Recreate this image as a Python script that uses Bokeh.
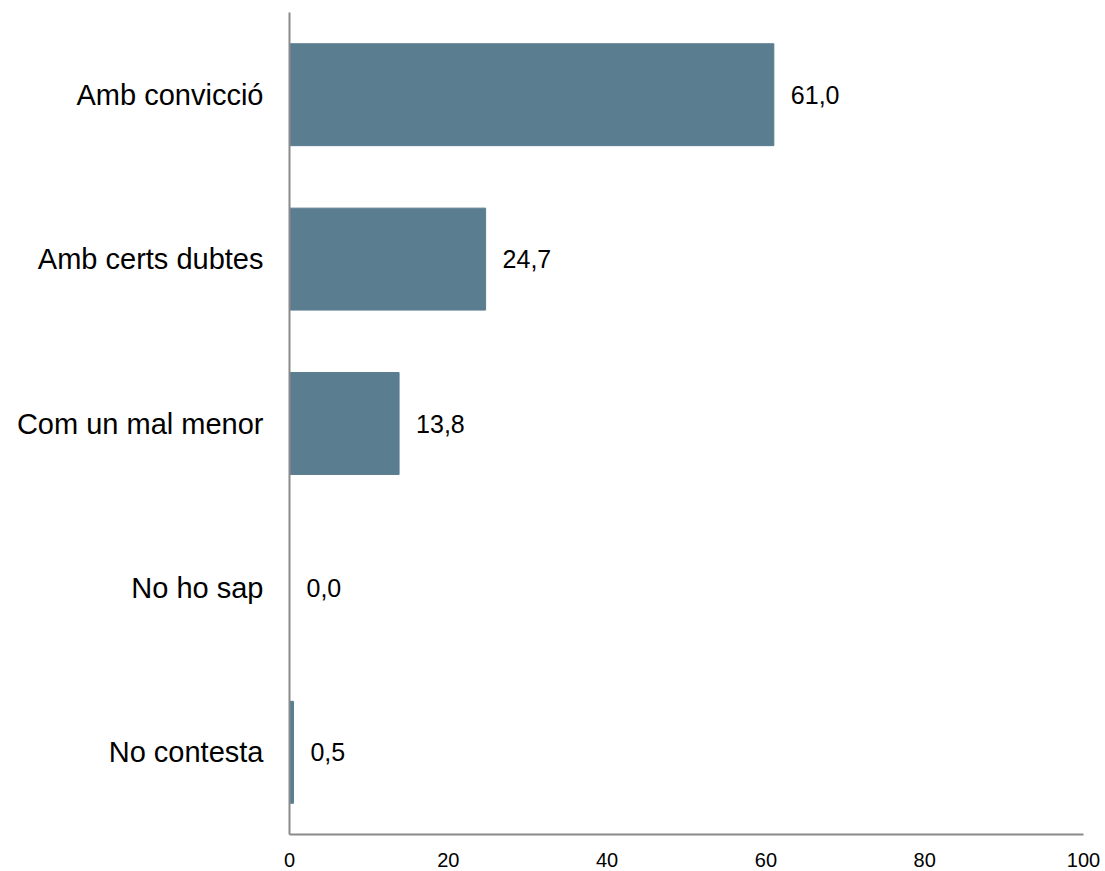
from bokeh.plotting import figure
from bokeh.models import ColumnDataSource, FactorRange, Range1d, FixedTicker
from bokeh.core.properties import value
from bokeh.embed import file_html
from bokeh.resources import INLINE

categories = ["Amb convicció", "Amb certs dubtes", "Com un mal menor", "No ho sap", "No contesta"]
values = [61.0, 24.7, 13.8, 0.0, 0.5]
labels = ["61,0", "24,7", "13,8", "0,0", "0,5"]
x_ticks = [0, 20, 40, 60, 80, 100]

src = ColumnDataSource(dict(cat=categories, val=values, lab=labels))

p = figure(width=1103, height=869, output_backend="svg", toolbar_location=None,
           y_range=FactorRange(factors=list(reversed(categories)), range_padding=0),
           x_range=Range1d(0, 100))
p.min_border_left = 289
p.min_border_right = 20
p.min_border_top = 12
p.min_border_bottom = 33
p.outline_line_color = None
p.grid.grid_line_color = None

p.hbar(y="cat", right="val", left=0, height=0.62, source=src,
       fill_color="#5b7d90", line_color="#5b7d90", line_width=1)
p.text(x="val", y="cat", text="lab", source=src, x_offset=17,
       text_baseline="middle", text_align="left",
       text_font=value("Liberation Sans"), text_font_size="25px", text_color="#000000")

for ax in (p.xaxis[0], p.yaxis[0]):
    ax.axis_line_color = "#8a8a8a"
    ax.axis_line_width = 2
    ax.major_tick_line_color = None
    ax.minor_tick_line_color = None
    ax.major_label_text_font = "Liberation Sans"
    ax.major_label_text_color = "#000000"

p.xaxis.ticker = FixedTicker(ticks=x_ticks)
p.xaxis.major_label_text_font_size = "20px"
p.xaxis.major_label_standoff = 12
p.yaxis.major_label_text_font_size = "29px"
p.yaxis.major_label_standoff = 20

open("out.html", "w").write(file_html(p, INLINE))
